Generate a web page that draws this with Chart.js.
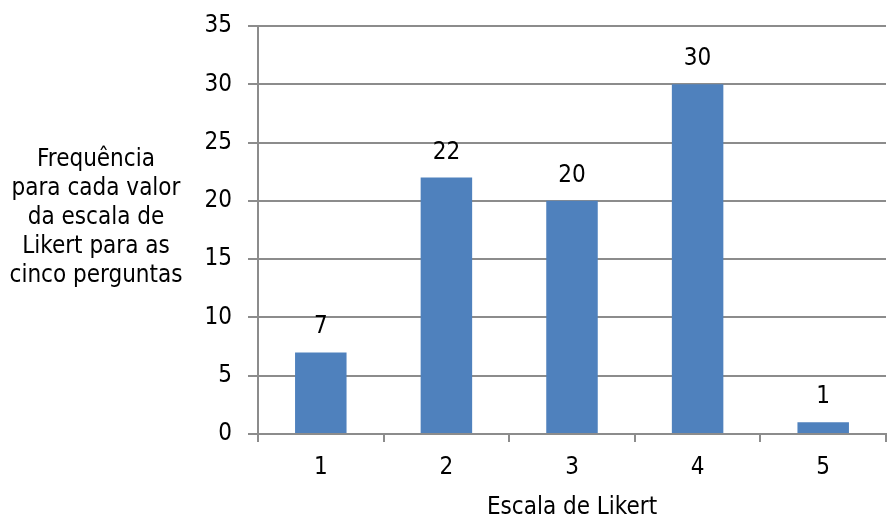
<!DOCTYPE html>
<html>
<head>
<meta charset="utf-8">
<script src="https://cdn.jsdelivr.net/npm/chart.js@4/dist/chart.umd.min.js"></script>
<style>
  html, body { margin: 0; padding: 0; background: #ffffff; }
  #wrap { width: 889px; height: 516px; position: relative; }
</style>
</head>
<body>
<div id="wrap"><canvas id="chart" width="889" height="516"></canvas></div>
<script>
// Likert scale points and how many answers fell on each one
const categories = ['1', '2', '3', '4', '5'];
const frequencies = [7, 22, 20, 30, 1];
const yTicks = [0, 5, 10, 15, 20, 25, 30, 35];
const yTitleLines = ['Frequência', 'para cada valor', 'da escala de', 'Likert para as', 'cinco perguntas'];
const xTitle = 'Escala de Likert';

const FONT = '"DejaVu Sans Condensed", "DejaVu Sans", sans-serif';
const FONT_SIZE = 24;
const AXIS_GRAY = '#8c8c8c';
const BAR_BLUE = '#4f81bd';

// Value labels above each bar
const valueLabels = {
  id: 'valueLabels',
  afterDatasetsDraw(chart) {
    const ctx = chart.ctx;
    const meta = chart.getDatasetMeta(0);
    ctx.save();
    ctx.font = FONT_SIZE + 'px ' + FONT;
    ctx.fillStyle = '#000';
    ctx.textAlign = 'center';
    ctx.textBaseline = 'alphabetic';
    meta.data.forEach((bar, i) => {
      ctx.fillText(String(frequencies[i]), bar.x, bar.y - 19);
    });
    ctx.restore();
  }
};

// Horizontal, multi-line y-axis title to the left of the tick labels
const sideTitle = {
  id: 'sideTitle',
  afterDraw(chart) {
    const ctx = chart.ctx;
    const area = chart.chartArea;
    ctx.save();
    ctx.font = FONT_SIZE + 'px ' + FONT;
    ctx.fillStyle = '#000';
    ctx.textAlign = 'center';
    ctx.textBaseline = 'middle';
    const lineH = 29;
    const midY = area.top + 192;
    const x = 96;
    yTitleLines.forEach((line, i) => {
      ctx.fillText(line, x, midY + (i - (yTitleLines.length - 1) / 2) * lineH);
    });
    ctx.restore();
  }
};

new Chart(document.getElementById('chart'), {
  type: 'bar',
  data: {
    labels: categories,
    datasets: [{
      data: frequencies,
      backgroundColor: BAR_BLUE,
      borderWidth: 0,
      categoryPercentage: 1.0,
      barPercentage: 0.41
    }]
  },
  options: {
    responsive: false,
    animation: false,
    layout: { padding: { top: 26, right: 3, left: 0, bottom: 0 } },
    plugins: {
      legend: { display: false },
      tooltip: { enabled: false }
    },
    scales: {
      x: {
        offset: true,
        afterFit(scale) {
          scale.height = 82;
          scale.paddingLeft = 0;
          scale.paddingRight = 0;
        },
        grid: {
          display: true,
          offset: true,
          drawOnChartArea: false,
          color: AXIS_GRAY,
          lineWidth: 2,
          tickLength: 8
        },
        border: { display: true, color: AXIS_GRAY, width: 2 },
        ticks: {
          color: '#000',
          font: { family: FONT, size: FONT_SIZE },
          padding: 11
        },
        title: {
          display: true,
          text: xTitle,
          color: '#000',
          font: { family: FONT, size: FONT_SIZE, lineHeight: 1 },
          padding: { top: 4, bottom: -4 }
        }
      },
      y: {
        min: 0,
        max: 35,
        afterBuildTicks(scale) {
          scale.ticks = yTicks.map(v => ({ value: v }));
        },
        afterFit(scale) {
          scale.width = 258;
          scale.paddingTop = 0;
          scale.paddingBottom = 0;
        },
        grid: {
          display: true,
          color: AXIS_GRAY,
          lineWidth: 2,
          tickLength: 10
        },
        border: { display: true, color: AXIS_GRAY, width: 2 },
        ticks: {
          color: '#000',
          font: { family: FONT, size: FONT_SIZE },
          padding: 16
        }
      }
    }
  },
  plugins: [valueLabels, sideTitle]
});
</script>
</body>
</html>
